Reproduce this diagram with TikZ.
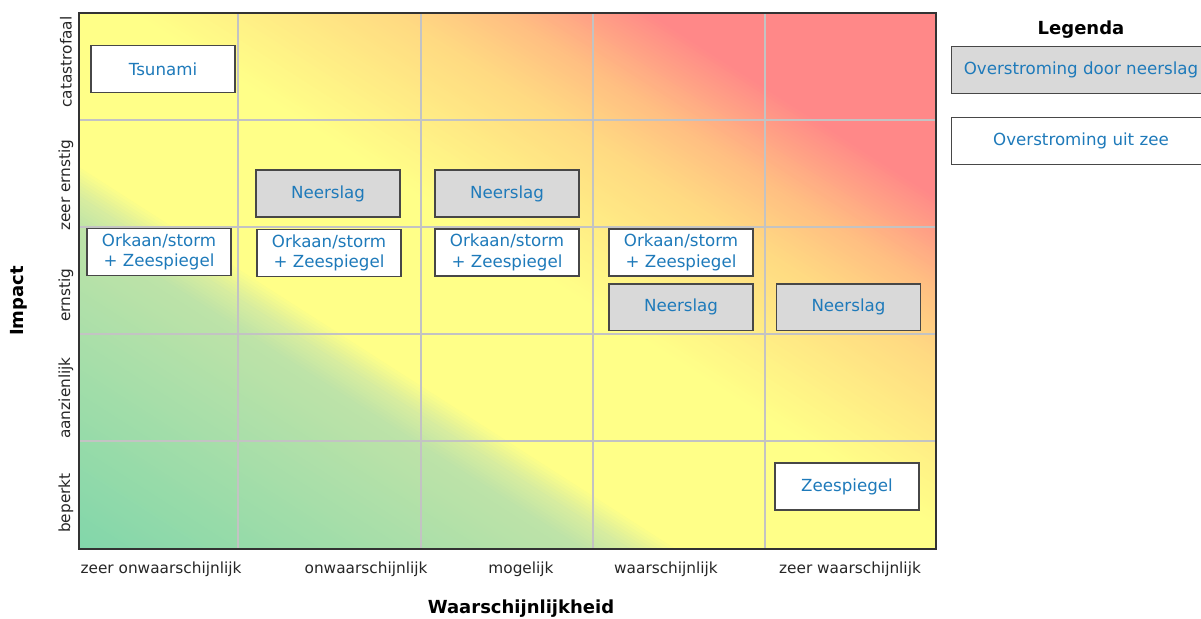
\documentclass[tikz,border=0pt]{standalone}
\usepackage{fontspec}
\setmainfont{DejaVu Sans}
\usetikzlibrary{positioning}

\definecolor{rGreen}{RGB}{128,214,170}
\definecolor{rLight}{RGB}{190,227,168}
\definecolor{rPale}{RGB}{214,236,160}
\definecolor{rYellow}{RGB}{255,255,136}
\definecolor{rOrange}{RGB}{255,218,130}
\definecolor{rPeach}{RGB}{255,190,130}
\definecolor{rRed}{RGB}{255,136,136}
\definecolor{boxText}{RGB}{30,122,186}
\definecolor{boxGray}{RGB}{217,217,217}
\definecolor{gridGray}{RGB}{195,195,195}

\tikzset{
  risk/.style={draw=black!72,line width=1.1pt,minimum width=108pt,minimum height=35pt,
    inner sep=1pt,align=center,text=boxText,font=\fontsize{12.5}{15.5}\selectfont},
  rain/.style={risk,fill=boxGray},
  sea/.style={risk,fill=white},
  gridline/.style={gridGray,line width=1.1pt},
  axislabel/.style={font=\fontsize{11.5}{14}\selectfont,text=black!85},
  axistitle/.style={font=\fontsize{13.5}{16}\selectfont\bfseries},
}

% one diagonal strip of the background, between t=#1 and t=#2
\newcommand\riskband[3]{%
  \fill[#3] ({(#1)*0.539+40*0.842},{-(#1)*0.842+40*0.539})
    -- ({(#1)*0.539+1120*0.842},{-(#1)*0.842+1120*0.539})
    -- ({(#2)*0.539+1120*0.842},{-(#2)*0.842+1120*0.539})
    -- ({(#2)*0.539+40*0.842},{-(#2)*0.842+40*0.539}) -- cycle;}

\begin{document}
\begin{tikzpicture}[x=0.75pt,y=-0.75pt]
  \useasboundingbox (0,0) rectangle (1201,618);
  \clip (0,0) rectangle (1201,618);

  % background of the matrix
  \begin{scope}
    \clip (79,13) rectangle (936,549);
    \foreach \ta/\tb/\ca/\cb in {-430/-150/rGreen/rLight,-150/-125/rLight/rPale,
        -125/-98/rPale/rYellow,-98/60/rYellow/rYellow,60/200/rYellow/rOrange,
        200/260/rOrange/rPeach,260/340/rPeach/rRed,340/510/rRed/rRed}{
      \pgfmathtruncatemacro\nb{((\tb)-(\ta))/3}
      \foreach \k in {0,...,\nb}{
        \pgfmathsetmacro\t{(\ta)+3*\k}
        \pgfmathtruncatemacro\p{100*\k/\nb}
        \colorlet{bandcol}{\cb!\p!\ca}
        \riskband{\t}{\t+4}{bandcol}
      }
    }
  \end{scope}

  % grid and frame
  \foreach \x in {238,421,593,765}
    \draw[gridline] (\x,13) -- (\x,549);
  \foreach \y in {120,227,334,441}
    \draw[gridline] (79,\y) -- (936,\y);
  \draw[black!80,line width=1.5pt] (79,13) rectangle (936,549);

  % risks
  \node[sea] (tsunami) at (163,69) {Tsunami};
  \node[sea] (orkaan1) at (159,252) {Orkaan/storm\\+ Zeespiegel};
  \node[rain] (neer2) at (328,193.5) {Neerslag};
  \node[sea] (orkaan2) at (329,253) {Orkaan/storm\\+ Zeespiegel};
  \node[rain] (neer3) at (507,193.5) {Neerslag};
  \node[sea] (orkaan3) at (507,252.5) {Orkaan/storm\\+ Zeespiegel};
  \node[sea] (orkaan4) at (681,252.5) {Orkaan/storm\\+ Zeespiegel};
  \node[rain,below=5pt of orkaan4] (neer4) {Neerslag};
  \node[rain,right=16.5pt of neer4] (neer5) {Neerslag};
  \node[sea] (zeespiegel) at (847,486.5) {Zeespiegel};

  % axes
  \foreach \x/\lab [count=\i] in {161/zeer onwaarschijnlijk,366/onwaarschijnlijk,
      521/mogelijk,666/waarschijnlijk,850/zeer waarschijnlijk}
    \node[axislabel] (kans\i) at (\x,569) {\lab};
  \foreach \y/\lab [count=\i] in {62/catastrofaal,185/zeer ernstig,295/ernstig,
      398/aanzienlijk,503/beperkt}
    \node[axislabel,rotate=90] (impact\i) at (66,\y) {\lab};
  \node[axistitle] (kanstitle) at (521,609) {Waarschijnlijkheid};
  \node[axistitle,rotate=90] (impacttitle) at (19,301) {Impact};

  % legend
  \node[axistitle] (legtitle) at (1081,30) {Legenda};
  \node[rain,minimum width=194pt] (legrain) at (1081,70) {Overstroming door neerslag};
  \node[sea,minimum width=194pt] (legsea) at (1081,141) {Overstroming uit zee};
\end{tikzpicture}
\end{document}
